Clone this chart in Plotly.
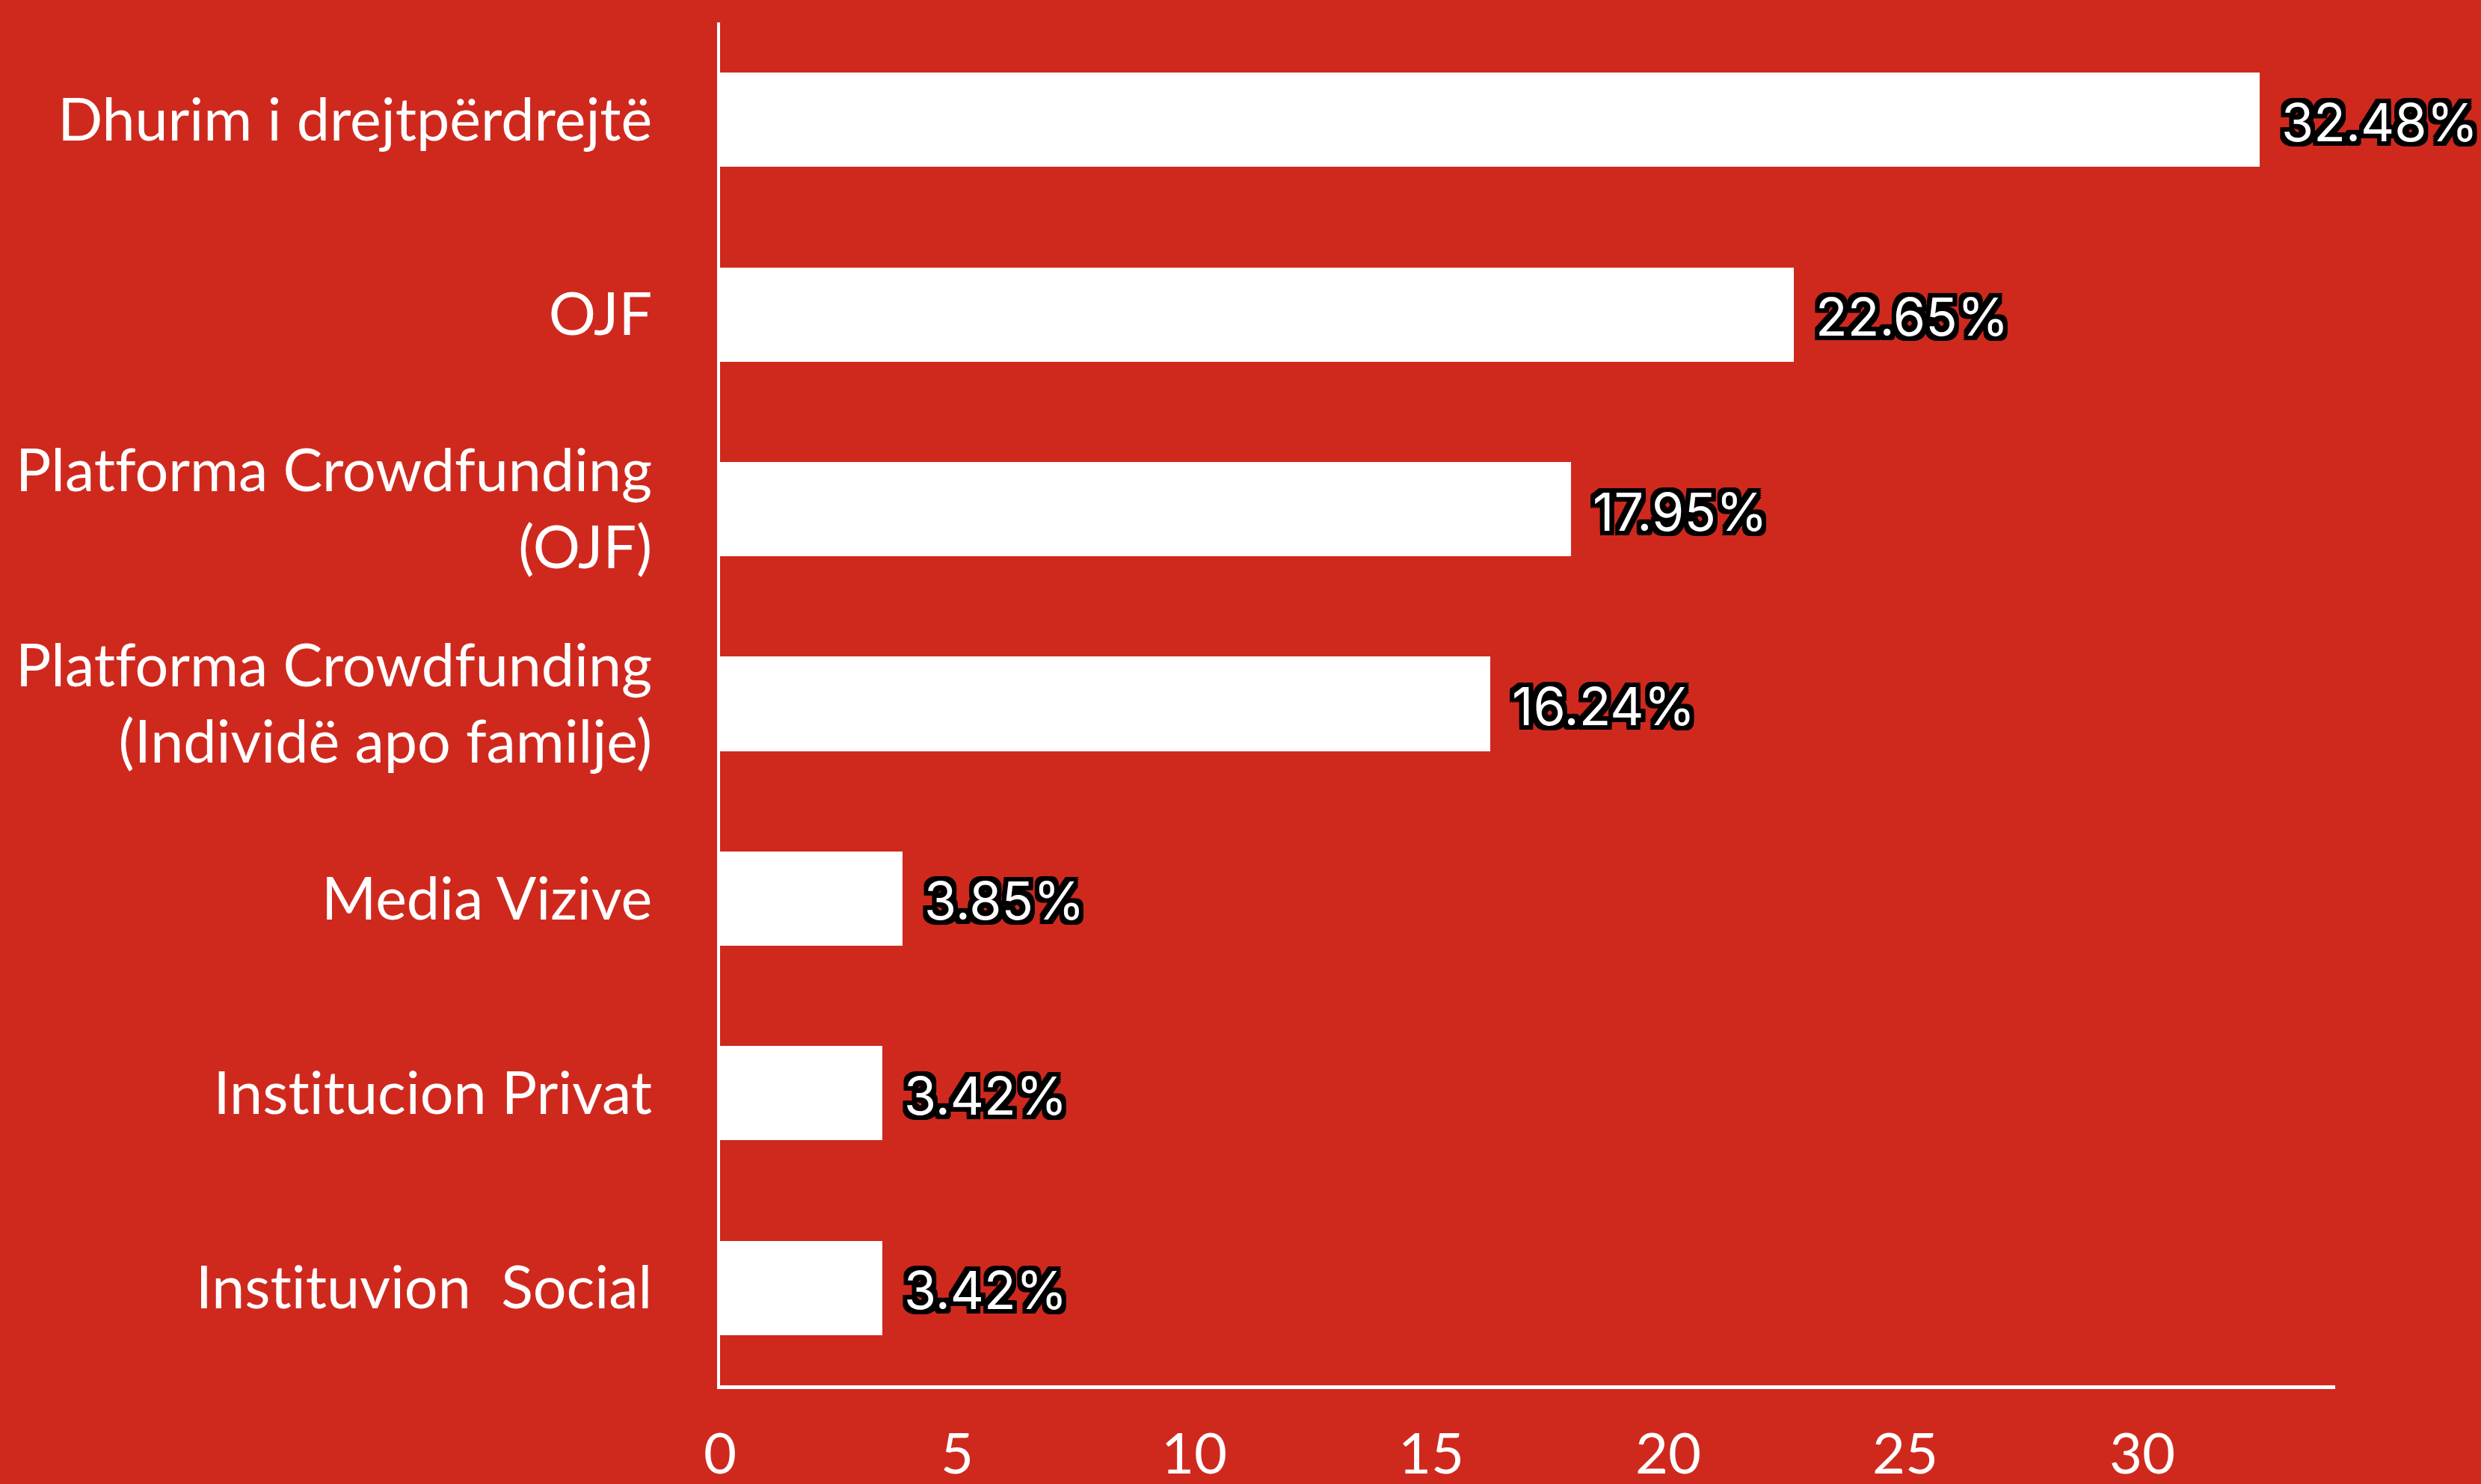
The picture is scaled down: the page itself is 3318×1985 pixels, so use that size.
import plotly.graph_objects as go

categories = [
    "Dhurim i drejtpërdrejtë",
    "OJF",
    "Platforma Crowdfunding<br>(OJF)",
    "Platforma Crowdfunding<br>(Individë apo familje)",
    "Media Vizive",
    "Institucion Privat",
    "Instituvion\u00a0 Social",
]
values = [32.48, 22.65, 17.95, 16.24, 3.85, 3.42, 3.42]
labels = ["32.48%", "22.65%", "17.95%", "16.24%", "3.85%", "3.42%", "3.42%"]
x_ticks = [0, 5, 10, 15, 20, 25, 30]

BG = "#CF291E"
o = 6
outline = ", ".join(
    f"{dx}px {dy}px 0 #000"
    for dx, dy in [(-o, -o), (o, -o), (-o, o), (o, o), (0, o), (0, -o), (o, 0), (-o, 0),
                   (-3, -o), (3, -o), (-3, o), (3, o), (o, 3), (o, -3), (-o, 3), (-o, -3)]
)

fig = go.Figure()
fig.add_trace(go.Bar(
    x=values, y=categories, orientation="h",
    marker=dict(color="white", line=dict(width=0)),
    width=0.484,
    hoverinfo="skip",
))

for v, c, t in zip(values, categories, labels):
    fig.add_annotation(
        x=v, y=c, text=t, showarrow=False, xanchor="left", yanchor="middle",
        xshift=27, yshift=-3,
        font=dict(family="Inter", size=70, weight=400, color="white", shadow=outline),
    )

fig.update_layout(
    width=3318, height=1985,
    paper_bgcolor=BG, plot_bgcolor=BG,
    margin=dict(l=963, r=195, t=30, b=132, autoexpand=False),
    showlegend=False,
    bargap=0,
)
fig.update_xaxes(
    range=[0, 34.07], tickvals=x_ticks, ticktext=[str(t) for t in x_ticks],
    showgrid=False, zeroline=False, automargin=False,
    showline=True, linecolor="white", linewidth=5,
    ticks="", ticklabelstandoff=22,
    tickfont=dict(family="Lato", size=76, color="white"),
)
fig.update_yaxes(
    categoryorder="array", categoryarray=categories, autorange="reversed",
    range=[6.5, -0.5], automargin=False,
    showgrid=False, zeroline=False,
    showline=True, linecolor="white", linewidth=4,
    ticks="", ticklabelstandoff=71,
    tickfont=dict(family="Lato", size=79, color="white"),
)

fig.write_html(
    "out.html",
    config={"displayModeBar": False},
    post_script=(
        "document.body.style.margin='0';"
        "document.body.style.background='" + BG + "';"
        "var s=document.createElement('style');"
        "s.textContent='svg text{font-variant-ligatures:none;font-feature-settings:\"liga\" 0;}';"
        "document.head.appendChild(s);"
    ),
)
